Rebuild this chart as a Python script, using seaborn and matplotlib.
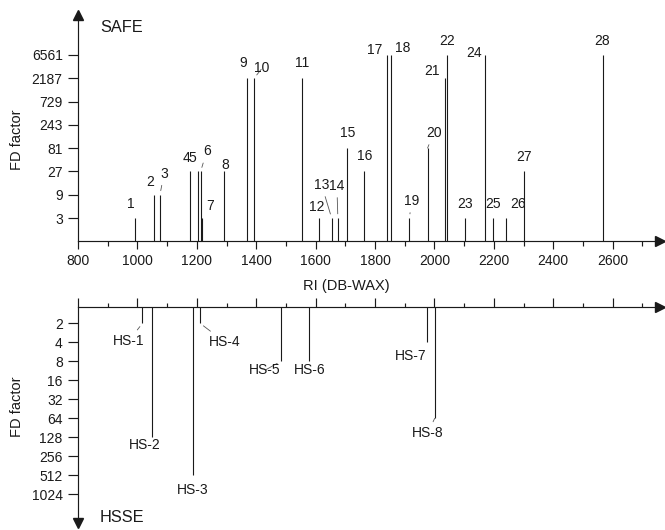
import numpy as np
import pandas as pd
import matplotlib
matplotlib.use("Agg")
import matplotlib.pyplot as plt
import seaborn as sns
from matplotlib.ticker import FixedLocator, MultipleLocator, NullFormatter, NullLocator, FixedFormatter

# ---------------- data ----------------
safe_ids = ["1", "2", "3", "4", "5", "6", "7", "8", "9", "10", "11", "12", "13", "14",
            "15", "16", "17", "18", "19", "20", "21", "22", "23", "24", "25", "26", "27", "28"]
safe_ri = [992, 1056, 1076, 1177, 1205, 1213, 1218, 1292, 1370, 1393, 1553, 1611, 1654, 1675,
           1705, 1763, 1839, 1853, 1916, 1977, 2035, 2042, 2104, 2169, 2198, 2240, 2301, 2566]
safe_fd = [3, 9, 9, 27, 27, 27, 3, 27, 2187, 2187, 2187, 3, 3, 3,
           81, 27, 6561, 6561, 3, 81, 2187, 6561, 3, 6561, 3, 3, 27, 6561]

hsse_ids = ["HS-1", "HS-2", "HS-3", "HS-4", "HS-5", "HS-6", "HS-7", "HS-8"]
hsse_ri = [1017, 1048, 1187, 1211, 1483, 1579, 1976, 2001]
hsse_fd = [2, 128, 512, 2, 8, 8, 4, 64]

x_ticks = [800, 1000, 1200, 1400, 1600, 1800, 2000, 2200, 2400, 2600]
safe_yticks = [3, 9, 27, 81, 243, 729, 2187, 6561]
hsse_yticks = [2, 4, 8, 16, 32, 64, 128, 256, 512, 1024]

# label offsets (pixels, y up) and leader-line flags
safe_off = [(-4, 14), (-4, 13), (4, 21), (-3.5, 13), (-5.5, 13), (6, 20), (8, 12), (1, 6),
            (-4, 15), (8, 10), (0, 15), (-2, 11), (-10, 33), (-1, 32), (1, 15), (1, 15),
            (-12, 5), (12, 7), (2, 17), (6, 15), (-13, 7), (0, 14), (0, 14), (-11, 2),
            (0, 14), (12, 14), (0, 14), (0, 14)]
safe_lead = {"3", "6", "10", "13", "14", "19", "20"}
hsse_off = [(-14, -18), (-7, -8), (0, -15), (25, -19), (-16, -9), (0, -9), (-17, -14), (-7, -15)]
hsse_lead = {"HS-1", "HS-4", "HS-5", "HS-8"}

# ---------------- style ----------------
sns.set_style("ticks")
plt.rcParams["font.family"] = ["Liberation Sans", "DejaVu Sans"]
INK = "#1a1a1a"

W, H = 665, 530
fig = plt.figure(figsize=(W / 100, H / 100), dpi=100)

x0, x1 = 78, 660
px_per_unit = 0.297
xmax = 800 + (x1 - x0) / px_per_unit

def fx(px):
    return px / W

def fy(py):
    return 1 - py / H

# top axes: baseline (FD=1) at y=241.3, 23.3 px per factor 3
top_base, top_top = 241.3, 15
ax1 = fig.add_axes([fx(x0), fy(top_base), fx(x1 - x0), (top_base - top_top) / H])
# bottom axes: x-axis at y=306.7, 19 px per factor 2
bot_top, bot_bot = 306.7, 523
ax2 = fig.add_axes([fx(x0), fy(bot_bot), fx(x1 - x0), (bot_bot - bot_top) / H])

ax1.set_yscale("log", base=3)
ax2.set_yscale("log", base=2)

safe_df = pd.DataFrame({"ri": safe_ri, "fd": safe_fd})
hsse_df = pd.DataFrame({"ri": hsse_ri, "fd": hsse_fd})

sns.barplot(data=safe_df, x="ri", y="fd", native_scale=True, color=INK, saturation=1,
            width=1e-6, errorbar=None, edgecolor=INK, linewidth=0.8, ax=ax1)
sns.barplot(data=hsse_df, x="ri", y="fd", native_scale=True, color=INK, saturation=1,
            width=1e-6, errorbar=None, edgecolor=INK, linewidth=0.8, ax=ax2)

ax1.set_xlim(800, xmax)
ax1.set_ylim(1, 3 ** ((top_base - top_top) / 23.3))
ax2.set_xlim(800, xmax)
ylo = 2 ** ((bot_top - 304.3) / 19)
yhi = 2 ** ((bot_bot - 304.3) / 19)
ax2.set_ylim(yhi, ylo)

for ax in (ax1, ax2):
    ax.set_xlabel("")
    ax.set_ylabel("")
    ax.patch.set_alpha(0)
    for s in ax.spines.values():
        s.set_linewidth(0.85)
        s.set_color(INK)

TICKFS = 10
# top spines
ax1.spines["top"].set_visible(False)
ax1.spines["right"].set_visible(False)
ax1.xaxis.set_major_locator(FixedLocator(x_ticks))
ax1.xaxis.set_minor_locator(MultipleLocator(100))
ax1.tick_params(axis="x", which="major", direction="out", length=5.8, width=0.85,
                color=INK, pad=3.6, labelsize=TICKFS, labelcolor=INK)
ax1.tick_params(axis="x", which="minor", direction="out", length=3.6, width=0.85, color=INK)
ax1.yaxis.set_major_locator(FixedLocator(safe_yticks))
ax1.yaxis.set_major_formatter(FixedFormatter([str(v) for v in safe_yticks]))
ax1.yaxis.set_minor_locator(NullLocator())
ax1.tick_params(axis="y", which="major", direction="out", length=7, width=0.85,
                color=INK, pad=4, labelsize=TICKFS, labelcolor=INK)

# bottom spines
ax2.spines["bottom"].set_visible(False)
ax2.spines["right"].set_visible(False)
ax2.xaxis.tick_top()
ax2.xaxis.set_major_locator(FixedLocator(x_ticks))
ax2.xaxis.set_minor_locator(MultipleLocator(100))
ax2.xaxis.set_major_formatter(NullFormatter())
ax2.tick_params(axis="x", which="major", direction="out", length=6.3, width=0.85, color=INK,
                labeltop=False, labelbottom=False)
ax2.tick_params(axis="x", which="minor", direction="out", length=3.2, width=0.85, color=INK)
ax2.yaxis.set_major_locator(FixedLocator(hsse_yticks))
ax2.yaxis.set_major_formatter(FixedFormatter([str(v) for v in hsse_yticks]))
ax2.yaxis.set_minor_locator(NullLocator())
ax2.tick_params(axis="y", which="major", direction="out", length=7, width=0.85,
                color=INK, pad=4, labelsize=TICKFS, labelcolor=INK)

# arrow heads
ax1.plot([1], [0], marker=">", ms=7, color=INK, transform=ax1.transAxes, clip_on=False)
ax1.plot([0], [1], marker="^", ms=7, color=INK, transform=ax1.transAxes, clip_on=False)
ax2.plot([1], [1], marker=">", ms=7, color=INK, transform=ax2.transAxes, clip_on=False)
ax2.plot([0], [0], marker="v", ms=7, color=INK, transform=ax2.transAxes, clip_on=False)

# peak labels
LABFS = 10
lead_style = dict(arrowstyle="-", color="#555555", lw=0.6, shrinkA=1, shrinkB=3)
for lab, ri, fd, (dx, dy) in zip(safe_ids, safe_ri, safe_fd, safe_off):
    ax1.annotate(lab, xy=(ri, fd), xytext=(dx, dy), textcoords="offset pixels",
                 ha="center", va="center", fontsize=LABFS, color=INK,
                 arrowprops=lead_style if lab in safe_lead else None)
for lab, ri, fd, (dx, dy) in zip(hsse_ids, hsse_ri, hsse_fd, hsse_off):
    ax2.annotate(lab, xy=(ri, fd), xytext=(dx, dy), textcoords="offset pixels",
                 ha="center", va="center", fontsize=LABFS, color=INK,
                 arrowprops=lead_style if lab in hsse_lead else None)

# titles and axis labels
fig.text(fx(100), fy(28), "SAFE", ha="left", va="center", fontsize=11.8, color=INK)
fig.text(fx(100), fy(518), "HSSE", ha="left", va="center", fontsize=11.8, color=INK)
fig.text(fx(17), fy(140), "FD factor", rotation=90, ha="center", va="center", fontsize=10.5, color=INK)
fig.text(fx(17), fy(407), "FD factor", rotation=90, ha="center", va="center", fontsize=10.5, color=INK)
fig.text(fx(346), fy(286), "RI (DB-WAX)", ha="center", va="center", fontsize=10.5, color=INK)

fig.savefig("out.png", dpi=100)
